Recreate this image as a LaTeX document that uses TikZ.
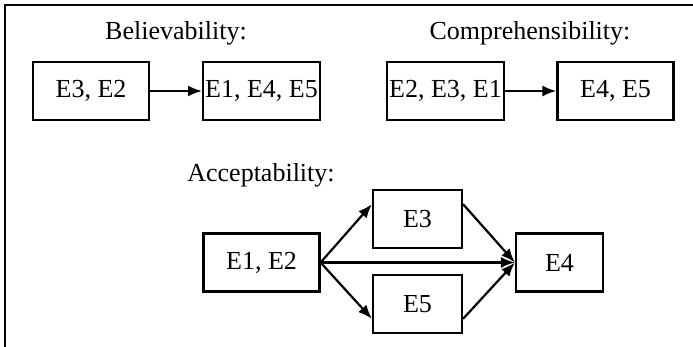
\documentclass[tikz,border=0pt]{standalone}
\usepackage{fontspec}
\setmainfont{Liberation Serif}
\usepackage{tikz}
\usetikzlibrary{arrows.meta, positioning}
\newcommand{\T}[1]{\fontsize{13}{15}\selectfont #1}

\begin{document}
\begin{tikzpicture}[x=0.5pt, y=-0.5pt,
        box/.style={draw, line width=1.1pt, minimum width=58pt, minimum height=29pt, inner sep=1pt},
        flecha/.style={-{Latex[length=7pt,width=5.5pt]}, line width=1.1pt}]
        \useasboundingbox (0,0) rectangle (693,347);
        % Marco
        \draw[line width=1.2pt] (5,347) -- (5,5) -- (693,5);
        % Believability
        \node (bel) at (176,33) {\T{Believability:}};
        \node[box] (a1) at (91,91) {\T{E3, E2}};
        \node[box] (a2) at (261.5,91) {\T{E1, E4, E5}};
        \draw[flecha] (a1) -- (a2);
        % Comprehensibility
        \node (comp) at (530,33) {\T{Comprehensibility:}};
        \node[box] (b1) at (445.5,91) {\T{E2, E3, E1}};
        \node[box] (b2) at (615.5,91) {\T{E4, E5}};
        \draw[flecha] (b1) -- (b2);
        % Acceptability
        \node (acc) at (261,175) {\T{Acceptability:}};
        \node[box] (e12) at (261.5,262.5) {\T{E1, E2}};
        \node[box, minimum width=44.5pt] (e3) at (417.5,219) {\T{E3}};
        \node[box, minimum width=44.5pt] (e5) at (417.5,304) {\T{E5}};
        \node[box, minimum width=43.5pt] (e4) at (559.5,262.5) {\T{E4}};
        \draw[flecha] (e12.east) -- (e3.162);
        \draw[flecha] (e12.east) -- (e5.198);
        \draw[flecha] (e12.east) -- (e4.west);
        \draw[flecha] (e3.18) -- (e4.west);
        \draw[flecha] (e5.342) -- (e4.west);
    \end{tikzpicture}
\end{document}
